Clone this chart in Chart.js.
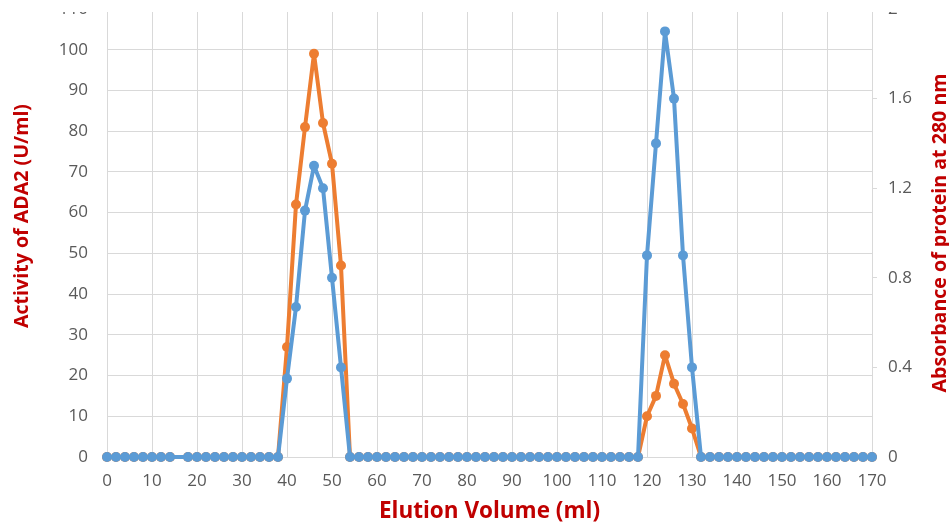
<!DOCTYPE html>
<html>
<head>
<meta charset="utf-8">
<script src="https://cdn.jsdelivr.net/npm/chart.js@4/dist/chart.umd.min.js"></script>
<style>
  html, body { margin: 0; padding: 0; background: #fff; }
  #wrap { width: 949px; height: 525px; position: relative; background: #fff; }
  /* the reference is cropped just under the top gridline */
  #crop { position: absolute; left: 0; top: 12px; width: 949px; height: 513px; overflow: hidden; }
  #chart { position: absolute; left: 0; top: -24px; }
</style>
</head>
<body>
<div id="wrap"><div id="crop"><canvas id="chart" width="949" height="537"></canvas></div></div>
<script>
// elution volume (ml) of each fraction
const volumes = [
  0, 2, 4, 6, 8, 10, 12, 14, 18, 20,
  22, 24, 26, 28, 30, 32, 34, 36, 38, 40,
  42, 44, 46, 48, 50, 52, 54, 56, 58, 60,
  62, 64, 66, 68, 70, 72, 74, 76, 78, 80,
  82, 84, 86, 88, 90, 92, 94, 96, 98, 100,
  102, 104, 106, 108, 110, 112, 114, 116, 118, 120,
  122, 124, 126, 128, 130, 132, 134, 136, 138, 140,
  142, 144, 146, 148, 150, 152, 154, 156, 158, 160,
  162, 164, 166, 168, 170
];

// ADA2 activity (U/ml), left axis - orange
const activity = [
  0, 0, 0, 0, 0, 0, 0, 0, 0, 0,
  0, 0, 0, 0, 0, 0, 0, 0, 0, 27,
  62, 81, 99, 82, 72, 47, 0, 0, 0, 0,
  0, 0, 0, 0, 0, 0, 0, 0, 0, 0,
  0, 0, 0, 0, 0, 0, 0, 0, 0, 0,
  0, 0, 0, 0, 0, 0, 0, 0, 0, 10,
  15, 25, 18, 13, 7, 0, 0, 0, 0, 0,
  0, 0, 0, 0, 0, 0, 0, 0, 0, 0,
  0, 0, 0, 0, 0
];

// protein absorbance at 280 nm, right axis - blue
const absorbance = [
  0, 0, 0, 0, 0, 0, 0, 0, 0, 0,
  0, 0, 0, 0, 0, 0, 0, 0, 0, 0.35,
  0.67, 1.10, 1.30, 1.20, 0.80, 0.40, 0, 0, 0, 0,
  0, 0, 0, 0, 0, 0, 0, 0, 0, 0,
  0, 0, 0, 0, 0, 0, 0, 0, 0, 0,
  0, 0, 0, 0, 0, 0, 0, 0, 0, 0.90,
  1.40, 1.90, 1.60, 0.90, 0.40, 0, 0, 0, 0, 0,
  0, 0, 0, 0, 0, 0, 0, 0, 0, 0,
  0, 0, 0, 0, 0
];

const leftTitle = "Activity of ADA2 (U/ml)";
const rightTitle = "Absorbance of protein at 280 nm";
const bottomTitle = "Elution Volume (ml)";

const tickColor = '#595959';
const gridColor = '#d9d9d9';
const titleColor = '#c00000';
const tickFont = { family: 'Open Sans', size: 17 };
const sideFont = 'bold 19.6px "Open Sans"';

// Excel puts both vertical titles reading bottom-to-top
const sideTitles = {
  id: 'sideTitles',
  afterDraw(chart) {
    const ctx = chart.ctx;
    ctx.save();
    ctx.fillStyle = titleColor;
    ctx.font = sideFont;
    ctx.textAlign = 'center';
    ctx.textBaseline = 'middle';
    [[leftTitle, 22, 228], [rightTitle, 940, 245]].forEach(([t, x, y]) => {
      ctx.save();
      ctx.translate(x, y);
      ctx.rotate(-Math.PI / 2);
      ctx.fillText(t, 0, 0);
      ctx.restore();
    });
    ctx.restore();
  }
};

const toPoints = (ys) => volumes.map((v, i) => ({ x: v, y: ys[i] }));

// fixed axis boxes so the plot sits where the Excel one does
const fixWidth = (w) => (s) => { s.width = w; s.paddingTop = 0; s.paddingBottom = 0; };

const lineStyle = {
  borderWidth: 4,
  borderJoinStyle: 'round',
  borderCapStyle: 'round',
  pointRadius: 5,
  pointBorderWidth: 0,
  tension: 0,
  clip: false
};

new Chart(document.getElementById('chart'), {
  type: 'line',
  data: {
    datasets: [
      Object.assign({
        label: 'Absorbance',
        data: toPoints(absorbance),
        yAxisID: 'y1',
        borderColor: '#5b9bd5',
        backgroundColor: '#5b9bd5'
      }, lineStyle),
      Object.assign({
        label: 'Activity',
        data: toPoints(activity),
        yAxisID: 'y',
        borderColor: '#ed7d31',
        backgroundColor: '#ed7d31'
      }, lineStyle)
    ]
  },
  options: {
    responsive: false,
    animation: false,
    devicePixelRatio: 1,
    layout: { padding: { top: 21, left: 0, right: 0, bottom: 0 } },
    plugins: {
      legend: { display: false },
      tooltip: { enabled: false }
    },
    scales: {
      x: {
        type: 'linear',
        min: 0,
        max: 170,
        afterFit: (s) => { s.height = 68; },
        ticks: { stepSize: 10, color: tickColor, font: tickFont, padding: 14, maxRotation: 0 },
        grid: { color: gridColor, lineWidth: 1, drawTicks: false },
        border: { color: gridColor },
        title: { display: true, text: bottomTitle, color: titleColor, font: { family: 'Open Sans', size: 22.5, weight: 'bold' }, padding: { top: 0, bottom: 0 } }
      },
      y: {
        position: 'left',
        min: 0,
        max: 110,
        afterFit: fixWidth(107),
        ticks: { stepSize: 10, color: tickColor, font: tickFont, padding: 19 },
        grid: { color: gridColor, lineWidth: 1, drawTicks: false },
        border: { color: gridColor }
      },
      y1: {
        position: 'right',
        min: 0,
        max: 2,
        afterFit: fixWidth(77),
        ticks: { stepSize: 0.4, color: tickColor, font: tickFont, padding: 11, callback: (v) => String(Math.round(v * 10) / 10) },
        grid: { drawOnChartArea: false, color: gridColor, tickLength: 5 },
        border: { color: gridColor }
      }
    }
  },
  plugins: [sideTitles]
});
</script>
</body>
</html>
